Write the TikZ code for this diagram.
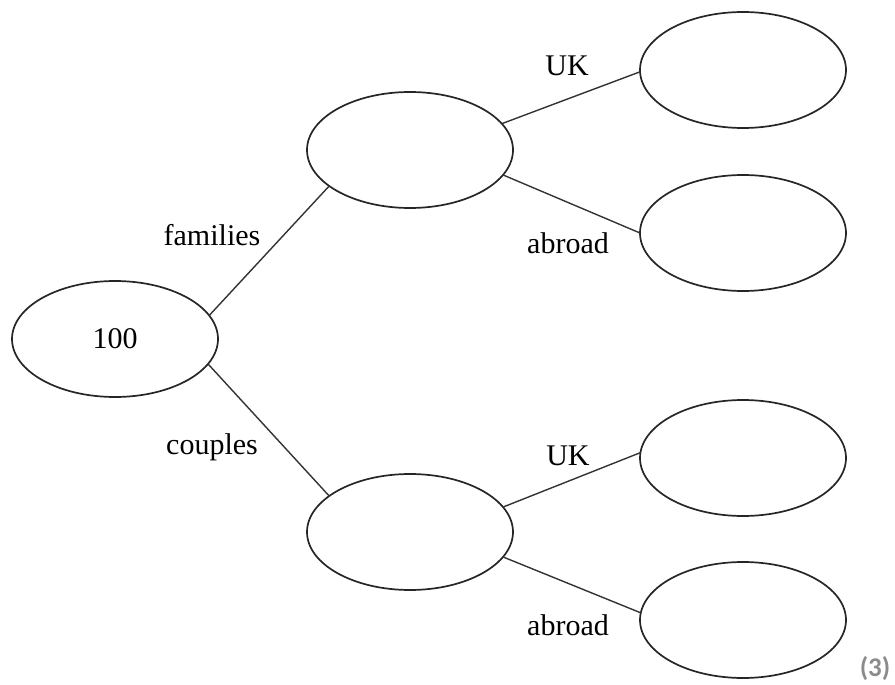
\documentclass[tikz,border=0pt]{standalone}
\usepackage{fontspec}
\setmainfont{Liberation Serif}
\newfontfamily\markfont{Carlito}
\usetikzlibrary{shapes.geometric}
\begin{document}
\begin{tikzpicture}[x=1pt,y=-1pt,
  bubble/.style={draw=black!85, line width=1.7pt, ellipse, minimum width=206pt, minimum height=116pt, inner sep=0pt, outer sep=0pt, font=\fontsize{30}{34}\selectfont},
  branch/.style={draw=black!80, line width=1.4pt},
  lbl/.style={font=\fontsize{30}{34}\selectfont, inner sep=0pt}]
\useasboundingbox (0,0) rectangle (895,685);
\node[bubble] (root) at (115,339) {100};
\node[bubble] (tm) at (410,150) {};
\node[bubble] (bm) at (410,532) {};
\node[bubble] (r1) at (743,70) {};
\node[bubble] (r2) at (743,233) {};
\node[bubble] (r3) at (743,458) {};
\node[bubble] (r4) at (743,620) {};
\draw[branch] (root.14.5) -- (tm.204);
\draw[branch] (root.-15.5) -- (bm.156);
\draw[branch] (tm.16) -- (r1.181);
\draw[branch] (tm.-15) -- (r2.180);
\draw[branch] (bm.15) -- (r3.177);
\draw[branch] (bm.-15) -- (r4.176);
\node[lbl] (lfam) at (212,235) {families};
\node[lbl] (lcou) at (212,447) {couples};
\node[lbl] (luk1) at (567,66) {UK};
\node[lbl] (lab1) at (568,243) {abroad};
\node[lbl] (luk2) at (568,456) {UK};
\node[lbl] (lab2) at (568,625) {abroad};
\node[inner sep=0pt, text=black!45, font=\markfont\bfseries\fontsize{27}{30}\selectfont] (mark) at (875,669) {(3)};
\end{tikzpicture}
\end{document}
